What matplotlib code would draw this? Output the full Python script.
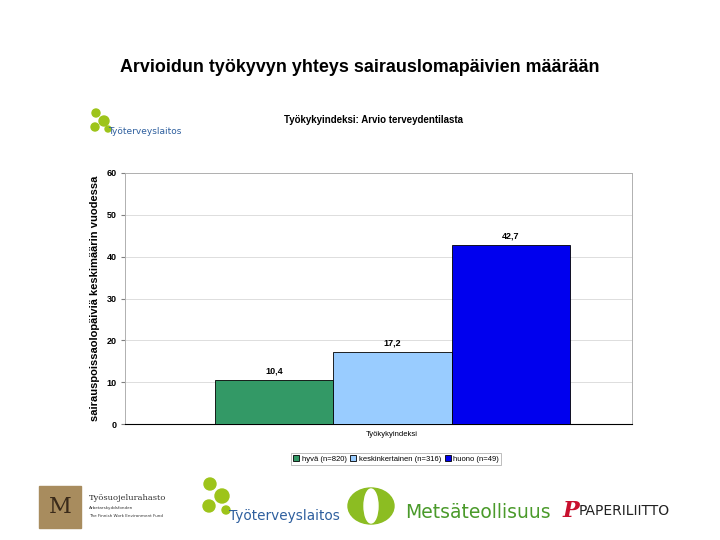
import matplotlib
matplotlib.use("Agg")
import matplotlib.pyplot as plt
from matplotlib.patches import Circle, Rectangle, Ellipse

# data
groups = ["hyvä (n=820)", "keskinkertainen (n=316)", "huono (n=49)"]
values = [10.4, 17.2, 42.7]
value_labels = ["10,4", "17,2", "42,7"]
colors = ["#339966", "#99ccff", "#0000ee"]
yticks = [0, 10, 20, 30, 40, 50, 60]

fig = plt.figure(figsize=(7.2, 5.4), dpi=100)
fig.patch.set_facecolor("white")

# main title
fig.text(0.5, 1 - 67 / 540, "Arvioidun työkyvyn yhteys sairauslomapäivien määrään",
         ha="center", va="center", fontsize=12.9, fontweight="bold",
         family="Liberation Sans")
# chart title
fig.text(373 / 720, 1 - 120 / 540, "Työkykyindeksi: Arvio terveydentilasta",
         ha="center", va="center", fontsize=7, fontweight="bold",
         family="Liberation Sans")

ax = fig.add_axes([125 / 720, 1 - 424 / 540, 507 / 720, 251 / 540])
x = [-1, 0, 1]
bars = ax.bar(x, values, width=1.0, color=colors, edgecolor="black",
              linewidth=0.6, label=groups, zorder=3)
for b, lab in zip(bars, value_labels):
    ax.text(b.get_x() + b.get_width() / 2, b.get_height() + 1.2, lab,
            ha="center", va="bottom", fontsize=6.5, fontweight="bold",
            family="Liberation Sans")

ax.set_xlim(-2.257, 2.021)
ax.set_ylim(0, 60)
ax.set_yticks(yticks)
ax.set_yticklabels([str(t) for t in yticks], fontsize=6.5, fontweight="bold",
                   family="Liberation Sans")
ax.set_xticks([])
ax.yaxis.grid(True, color="#d8d8d8", linewidth=0.6, zorder=0)
ax.tick_params(axis="y", length=3, color="#808080", pad=3)
for s in ["top", "right", "left"]:
    ax.spines[s].set_color("#b0b0b0")
    ax.spines[s].set_linewidth(0.7)
ax.spines["bottom"].set_color("black")
ax.spines["bottom"].set_linewidth(0.8)
ax.set_ylabel("sairauspoissaolopäiviä keskimäärin vuodessa", fontsize=8,
              fontweight="bold", family="Liberation Sans", labelpad=5)

fig.text(392 / 720, 1 - 435 / 540, "Työkykyindeksi", ha="center", va="center",
         fontsize=5.5, family="Liberation Sans")

leg = fig.legend(handles=bars, labels=groups, loc="center",
                 bbox_to_anchor=(396 / 720, 1 - 459 / 540), ncol=3,
                 frameon=True, fancybox=False,
                 handlelength=0.8, handleheight=0.8, handletextpad=0.3,
                 columnspacing=0.5, borderpad=0.3,
                 prop={"family": "Liberation Sans", "size": 5.5})
leg.get_frame().set_edgecolor("#a0a0a0")
leg.get_frame().set_linewidth(0.6)

# logos (approximated)
la = fig.add_axes([0, 0, 1, 1], zorder=-1)
la.set_xlim(0, 720)
la.set_ylim(540, 0)
la.axis("off")

lime = "#9dc41a"
# top-left Työterveyslaitos
for cx, cy, r in [(96, 113, 4), (104, 121, 5), (95, 127, 4), (108, 129, 3)]:
    la.add_patch(Circle((cx, cy), r, color=lime))
la.text(108, 132, "Työterveyslaitos", fontsize=6.5, color="#2e5f9e",
        va="center", ha="left", family="DejaVu Sans")

# bottom: Työsuojelurahasto
la.add_patch(Rectangle((39, 486), 42, 42, color="#a88c5e"))
la.text(60, 507, "M", fontsize=16, color="#3a2a1a", ha="center", va="center",
        family="DejaVu Serif")
la.text(89, 498, "Työsuojelurahasto", fontsize=6, color="#333333",
        va="center", family="DejaVu Serif")
la.text(89, 508, "Arbetarskyddsfonden", fontsize=3, color="#333333", va="center")
la.text(89, 516, "The Finnish Work Environment Fund", fontsize=3,
        color="#333333", va="center")

# bottom: Työterveyslaitos
for cx, cy, r in [(210, 484, 6), (222, 496, 7), (209, 506, 6), (226, 510, 4)]:
    la.add_patch(Circle((cx, cy), r, color=lime))
la.text(229, 516, "Työterveyslaitos", fontsize=9.8, color="#2e5f9e",
        va="center", ha="left", family="DejaVu Sans")

# bottom: Metsäteollisuus
la.add_patch(Ellipse((371, 506), 46, 36, color="#8cbd22"))
la.add_patch(Ellipse((371, 506), 14, 34, color="white"))
la.text(405, 513, "Metsäteollisuus", fontsize=13.5, color="#4a9a2a",
        va="center", ha="left", family="DejaVu Sans")

# bottom: Paperiliitto
la.text(563, 511, "P", fontsize=16, color="#c8102e", va="center",
        ha="left", fontweight="bold", fontstyle="italic", family="DejaVu Serif")
la.text(579, 511, "PAPERILIITTO", fontsize=10, color="#222222", va="center",
        ha="left", family="DejaVu Sans")

fig.savefig("out.png", dpi=100)
